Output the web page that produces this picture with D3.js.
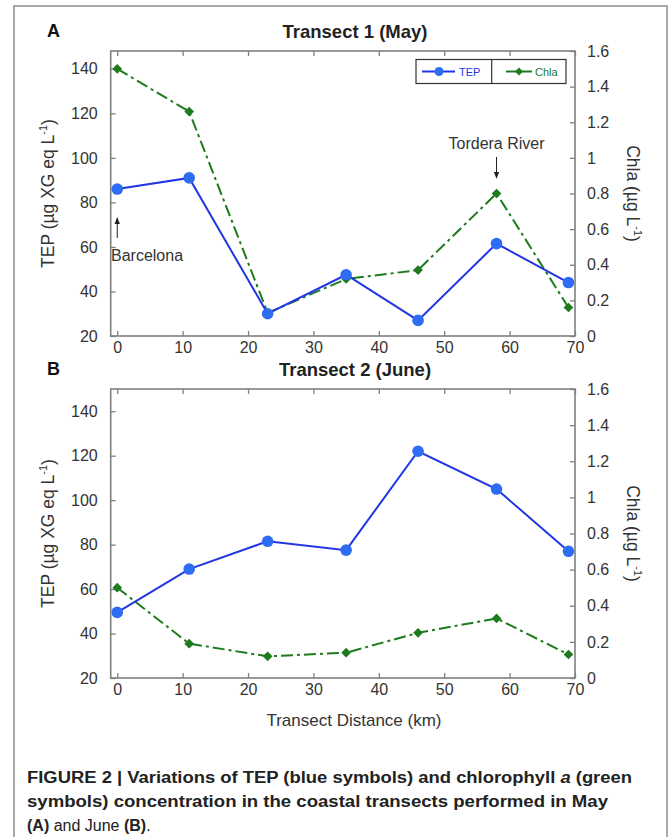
<!DOCTYPE html>
<html><head><meta charset="utf-8">
<script src="https://cdn.jsdelivr.net/npm/d3@7"></script>
<style>body{margin:0;background:#fff}svg{display:block}</style>
</head><body><svg id="c" width="668" height="837"></svg>
<script>
// ---------- data ----------
const distance = [0, 11, 23, 35, 46, 58, 69];
const tepMay   = [86, 91, 30, 47.5, 27, 61.5, 44];
const chlaMay  = [1.5, 1.26, 0.13, 0.32, 0.37, 0.8, 0.16];
const tepJune  = [49.5, 69, 81.5, 77.5, 122, 105, 77];
const chlaJune = [0.5, 0.19, 0.12, 0.14, 0.25, 0.33, 0.13];
const xTicks    = [0, 10, 20, 30, 40, 50, 60, 70];
const tepTicks  = [20, 40, 60, 80, 100, 120, 140];
const chlaTicks = [0, 0.2, 0.4, 0.6, 0.8, 1, 1.2, 1.4, 1.6];
const panelLetters = ["A", "B"];
const panelTitles  = ["Transect 1 (May)", "Transect 2 (June)"];
const seriesNames  = ["TEP", "Chla"];
const xLabel = "Transect Distance (km)";
const annotations = [{text: "Barcelona", x: 0, dir: "up"}, {text: "Tordera River", x: 58, dir: "down"}];

// ---------- style ----------
const FONT = "'Liberation Sans', Arial, Helvetica, sans-serif";
const BLUE_LINE = "#2336e6", BLUE_MARK = "#2e6cf3", GREEN = "#1d7a1d";
const AXIS = "#808080", TXT = "#333";

const svg = d3.select("#c");
svg.append("rect").attr("width", 668).attr("height", 837).attr("fill", "#fff");
// outer figure frame
svg.append("rect").attr("x", 14).attr("y", 6).attr("width", 653).attr("height", 900)
  .attr("fill", "none").attr("stroke", "#8c8c8c").attr("stroke-width", 1.5);

const defs = svg.append("defs");
defs.append("marker").attr("id", "ah").attr("viewBox", "0 0 10 10").attr("refX", 9).attr("refY", 5)
  .attr("markerWidth", 7).attr("markerHeight", 7).attr("orient", "auto-start-reverse")
  .append("path").attr("d", "M0,1 L10,5 L0,9 Z").attr("fill", "#222");

const panels = [
  {top: 51, bottom: 336, tep: tepMay, chla: chlaMay, tepMax: 148, legend: true, ann: true},
  {top: 389, bottom: 678, tep: tepJune, chla: chlaJune, tepMax: 150, legend: false, ann: false}
];
const left = 110.7, right = 575;

panels.forEach((p, i) => {
  const g = svg.append("g");
  const x = d3.scaleLinear().domain([-1, 70]).range([left, right]);
  const yL = d3.scaleLinear().domain([20, p.tepMax]).range([p.bottom, p.top]);
  const yR = d3.scaleLinear().domain([0, 1.6]).range([p.bottom, p.top]);

  const styleAxis = sel => {
    sel.select(".domain").remove();
    sel.selectAll(".tick line").attr("stroke", AXIS).attr("stroke-width", 1.3);
    sel.selectAll(".tick text").attr("fill", TXT).style("font-family", FONT).style("font-size", "16px");
  };
  g.append("g").attr("transform", `translate(0,${p.bottom})`)
    .call(d3.axisBottom(x).tickValues(xTicks).tickSize(-5).tickPadding(6).tickFormat(d3.format("d"))).call(styleAxis);
  g.append("g").attr("transform", `translate(0,${p.top})`)
    .call(d3.axisTop(x).tickValues(xTicks).tickSize(-5).tickFormat("")).call(styleAxis);
  g.append("g").attr("transform", `translate(${left},0)`)
    .call(d3.axisLeft(yL).tickValues(tepTicks).tickSize(-5).tickPadding(13).tickFormat(d3.format("d"))).call(styleAxis);
  g.append("g").attr("transform", `translate(${right},0)`)
    .call(d3.axisRight(yR).tickValues(chlaTicks).tickSize(-5).tickPadding(12).tickFormat(d => d3.format("~g")(d))).call(styleAxis);

  g.append("rect").attr("x", left).attr("y", p.top).attr("width", right - left).attr("height", p.bottom - p.top)
    .attr("fill", "none").attr("stroke", AXIS).attr("stroke-width", 1.6);

  // panel letter and title
  g.append("text").attr("x", 47).attr("y", p.top - 14).text(panelLetters[i])
    .style("font-family", FONT).style("font-size", "18px").style("font-weight", "bold").attr("fill", "#111");
  g.append("text").attr("x", 355).attr("y", p.top - 13).attr("text-anchor", "middle").text(panelTitles[i])
    .style("font-family", FONT).style("font-size", "18.5px").style("font-weight", "bold").attr("fill", "#222");

  // y axis titles
  const cy = (p.top + p.bottom) / 2;
  const lt = g.append("text").attr("transform", `translate(54,${cy}) rotate(-90)`).attr("text-anchor", "middle")
    .style("font-family", FONT).style("font-size", "17.5px").attr("fill", TXT);
  lt.append("tspan").text("TEP (µg XG eq L");
  lt.append("tspan").attr("dy", -7).style("font-size", "11px").text("-1");
  lt.append("tspan").attr("dy", 7).text(")");
  const rt = g.append("text").attr("transform", `translate(627,${cy}) rotate(90)`).attr("text-anchor", "middle")
    .style("font-family", FONT).style("font-size", "17.5px").attr("fill", TXT);
  rt.append("tspan").text("Chla (µg L");
  rt.append("tspan").attr("dy", -7).style("font-size", "11px").text("-1");
  rt.append("tspan").attr("dy", 7).text(")");

  // series
  const idx = d3.range(distance.length);
  const lineL = d3.line().x(k => x(distance[k])).y(k => yL(p.tep[k]));
  const lineR = d3.line().x(k => x(distance[k])).y(k => yR(p.chla[k]));
  g.append("path").attr("d", lineR(idx)).attr("fill", "none").attr("stroke", GREEN)
    .attr("stroke-width", 2).attr("stroke-dasharray", "12,4,3,4");
  g.append("path").attr("d", lineL(idx)).attr("fill", "none").attr("stroke", BLUE_LINE).attr("stroke-width", 2);
  g.selectAll(".dm").data(idx).enter().append("path")
    .attr("d", d3.symbol(d3.symbolDiamond2, 60)())
    .attr("transform", k => `translate(${x(distance[k])},${yR(p.chla[k])})`).attr("fill", GREEN);
  g.selectAll(".ci").data(idx).enter().append("circle")
    .attr("cx", k => x(distance[k])).attr("cy", k => yL(p.tep[k])).attr("r", 5.8).attr("fill", BLUE_MARK);

  if (p.legend) {
    const lg = g.append("g");
    lg.append("rect").attr("x", 416).attr("y", 59.5).attr("width", 150).attr("height", 24)
      .attr("fill", "#fff").attr("stroke", "#333").attr("stroke-width", 1.2);
    lg.append("line").attr("x1", 491.7).attr("x2", 491.7).attr("y1", 59.5).attr("y2", 83.5).attr("stroke", "#333").attr("stroke-width", 1.2);
    lg.append("line").attr("x1", 422).attr("x2", 455).attr("y1", 71.5).attr("y2", 71.5).attr("stroke", BLUE_LINE).attr("stroke-width", 2);
    lg.append("circle").attr("cx", 439).attr("cy", 71.5).attr("r", 4.5).attr("fill", BLUE_MARK);
    lg.append("text").attr("x", 459).attr("y", 75.5).text(seriesNames[0]).attr("fill", BLUE_LINE)
      .style("font-family", FONT).style("font-size", "11px");
    lg.append("line").attr("x1", 506).attr("x2", 532).attr("y1", 71.5).attr("y2", 71.5).attr("stroke", GREEN).attr("stroke-width", 2);
    lg.append("path").attr("d", d3.symbol(d3.symbolDiamond2, 40)()).attr("transform", "translate(519,71.5)").attr("fill", GREEN);
    lg.append("text").attr("x", 535).attr("y", 75.5).text(seriesNames[1]).attr("fill", GREEN)
      .style("font-family", FONT).style("font-size", "11px");
  }

  if (p.ann) {
    const a0 = annotations[0], a1 = annotations[1];
    g.append("line").attr("x1", x(a0.x)).attr("x2", x(a0.x)).attr("y1", 238).attr("y2", 218)
      .attr("stroke", "#222").attr("stroke-width", 1).attr("marker-end", "url(#ah)");
    g.append("text").attr("x", 111).attr("y", 261).text(a0.text).attr("fill", TXT)
      .style("font-family", FONT).style("font-size", "16px");
    g.append("text").attr("x", x(a1.x)).attr("y", 149).attr("text-anchor", "middle").text(a1.text).attr("fill", TXT)
      .style("font-family", FONT).style("font-size", "16px");
    g.append("line").attr("x1", x(a1.x)).attr("x2", x(a1.x)).attr("y1", 157).attr("y2", 178)
      .attr("stroke", "#222").attr("stroke-width", 1).attr("marker-end", "url(#ah)");
  }

  if (i === 1) {
    g.append("text").attr("x", 354).attr("y", 726).attr("text-anchor", "middle").text(xLabel)
      .style("font-family", FONT).style("font-size", "17px").attr("fill", TXT);
  }
});

// ---------- caption ----------
const cap = svg.append("g").style("font-family", FONT).attr("fill", "#222").style("font-size", "16px");
const l1 = cap.append("text").attr("x", 27).attr("y", 783).attr("textLength", 605).attr("lengthAdjust", "spacingAndGlyphs").style("font-weight", "bold");
l1.append("tspan").text("FIGURE 2 | Variations of TEP (blue symbols) and chlorophyll ");
l1.append("tspan").style("font-style", "italic").text("a");
l1.append("tspan").text(" (green");
cap.append("text").attr("x", 27).attr("y", 807).attr("textLength", 581).attr("lengthAdjust", "spacingAndGlyphs")
  .style("font-weight", "bold").text("symbols) concentration in the coastal transects performed in May");
const l3 = cap.append("text").attr("x", 27).attr("y", 831);
l3.append("tspan").style("font-weight", "bold").text("(A)");
l3.append("tspan").style("font-weight", "normal").text(" and June ");
l3.append("tspan").style("font-weight", "bold").text("(B)");
l3.append("tspan").style("font-weight", "normal").text(".");
</script></body></html>
